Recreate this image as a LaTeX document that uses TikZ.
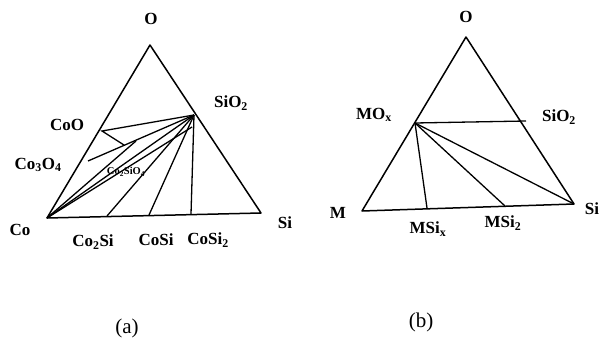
\documentclass[tikz,border=0pt]{standalone}
\usepackage{fontspec}
\setmainfont{Liberation Serif}
\usetikzlibrary{positioning}

\tikzset{
    edge/.style={line width=1.5pt, line join=round},
    tie/.style={line width=1.3pt},
    lbl/.style={font=\fontsize{17}{17}\selectfont\bfseries, inner sep=0pt},
    sublbl/.style={font=\fontsize{21}{21}\selectfont, inner sep=0pt}
}

\begin{document}
\begin{tikzpicture}[x=1pt, y=-1pt]
    \useasboundingbox (0,0) rectangle (602,342);
    % (a) Co-Si-O corners
    \coordinate (O) at (150,45);
    \coordinate (Co) at (47,218);
    \coordinate (Si) at (261,213);
    \coordinate (SiOt) at (194,115);
    \coordinate (CoO) at (102,131);
    \coordinate (CoOz) at (124,145);
    \coordinate (CoOs) at (88,161);
    \coordinate (CoSiO) at (136,141);
    \coordinate (CoSiF) at (192,127);
    \coordinate (CoSiA) at (107,216);
    \coordinate (CoSiB) at (149,215);
    \coordinate (CoSiC) at (191,214);
    \draw[edge] (Co) -- (O) -- (Si) -- cycle;
    % tie lines
    \draw[tie] (SiOt) -- (CoO) -- (CoOz);
    \draw[tie] (CoOs) -- (SiOt);
    \draw[tie] (Co) -- (CoSiO);
    \draw[tie] (Co) -- (SiOt);
    \draw[tie] (Co) -- (CoSiF);
    \draw[tie] (SiOt) -- (CoSiA);
    \draw[tie] (SiOt) -- (CoSiB);
    \draw[tie] (SiOt) -- (CoSiC);
    % labels
    \node[lbl] (lO) at (151,19) {O};
    \node[lbl] (lSiOt) at (231,103) {SiO\textsubscript{2}};
    \node[lbl] (lCoO) at (67,125) {CoO};
    \node[lbl] (lCoOs) at (38,165) {Co\textsubscript{3}O\textsubscript{4}};
    \node[lbl, font=\fontsize{10.5}{10.5}\selectfont\bfseries] (lCoSiO) at (126,172) {Co\textsubscript{2}SiO\textsubscript{4}};
    \node[lbl] (lCo) at (20,230) {Co};
    \node[lbl] (lCoSiA) at (93,242) {Co\textsubscript{2}Si};
    \node[lbl] (lCoSiB) at (156,240) {CoSi};
    \node[lbl] (lCoSiC) at (208,240) {CoSi\textsubscript{2}};
    \node[lbl] (lSi) at (285,223) {Si};
    \node[sublbl] (la) at (127,328) {(a)};
    % (b) M-Si-O corners
    \coordinate (Ob) at (466,37);
    \coordinate (M) at (362,211);
    \coordinate (Sib) at (574,204);
    \coordinate (MOx) at (415,123);
    \coordinate (SiOb) at (526,121);
    \coordinate (MSix) at (427,208);
    \coordinate (MSit) at (505,206);
    \draw[edge] (M) -- (Ob) -- (Sib) -- cycle;
    \draw[tie] (MOx) -- (SiOb);
    \draw[tie] (MOx) -- (MSix);
    \draw[tie] (MOx) -- (MSit);
    \draw[tie] (MOx) -- (Sib);
    \node[lbl] (lOb) at (466,17) {O};
    \node[lbl] (lMOx) at (374,115) {MO\textsubscript{x}};
    \node[lbl] (lSiOb) at (559,117) {SiO\textsubscript{2}};
    \node[lbl] (lM) at (338,213) {M};
    \node[lbl] (lSib) at (592,209) {Si};
    \node[lbl] (lMSix) at (428,229) {MSi\textsubscript{x}};
    \node[lbl] (lMSit) at (503,223) {MSi\textsubscript{2}};
    \node[sublbl] (lb) at (421,322) {(b)};
\end{tikzpicture}
\end{document}
